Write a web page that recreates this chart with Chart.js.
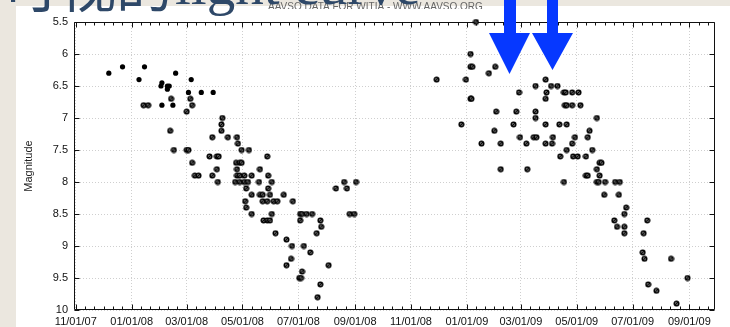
<!DOCTYPE html>
<html><head><meta charset="utf-8">
<script src="https://cdn.jsdelivr.net/npm/chart.js@4.4.0/dist/chart.umd.min.js"></script>
<style>html,body{margin:0;padding:0;background:#ebe7df;overflow:hidden}#wrap{width:730px;height:327px}</style>
</head><body><div id="wrap"><canvas id="c" width="730" height="327"></canvas></div>
<script>
// ---- data (x = days since 2007-11-01, y = magnitude) ----
const startDate = [2007, 11, 1];
const tickLabels = ['11/01/07','01/01/08','03/01/08','05/01/08','07/01/08','09/01/08','11/01/08','01/01/09','03/01/09','05/01/09','07/01/09','09/01/09'];
const magTicks = [5.5,6,6.5,7,7.5,8,8.5,9,9.5,10];
const titleCJK = '可视的';
const titleLatin = 'light curve';
const headerText = 'AAVSO DATA FOR WITIA - WWW.AAVSO.ORG';
const yTitle = 'Magnitude';

const filledDays = [36,51,75,69,109,126,94,93,100,102,100,123,137,150,94,106];
const filledMags = [6.3,6.2,6.2,6.4,6.3,6.4,6.45,6.5,6.5,6.5,6.55,6.6,6.6,6.6,6.8,6.8];

const season2008Days = [74,79,104,125,127,121,160,103,107,159,159,149,166,176,177,181,189,121,123,127,146,154,156,209,130,134,149,154,155,175,179,181,176,176,179,184,192,201,174,179,184,188,200,210,214,186,210,192,201,204,212,227,185,204,209,216,220,237,186,192,205,209,212,214,218,230,236,235,230,244,246,247,245,247,252,258,245,267,268,263,249,256,276,267,264,284,293,296,306,299,304];
const season2008Mags = [6.8,6.8,6.7,6.7,6.8,6.9,7.0,7.2,7.5,7.1,7.2,7.3,7.3,7.3,7.4,7.5,7.5,7.5,7.5,7.7,7.6,7.6,7.6,7.6,7.9,7.9,7.9,7.8,8.0,7.7,7.7,7.7,7.8,7.9,7.9,7.9,7.9,7.8,8.0,8.0,8.0,8.0,8.0,7.9,8.0,8.1,8.1,8.2,8.2,8.2,8.2,8.2,8.3,8.3,8.3,8.3,8.3,8.3,8.4,8.5,8.6,8.6,8.6,8.5,8.8,8.9,9.0,9.2,9.3,9.5,9.5,9.4,8.5,8.5,8.5,8.5,8.6,8.6,8.7,8.8,9.0,9.1,9.3,9.6,9.8,8.1,8.0,8.1,8.0,8.5,8.5];

const season2009Days = [437,431,431,433,458,451,394,426,431,432,421,443,459,457,464,464,478,481,484,485,492,493,502,502,502,500,503,513,519,526,514,513,533,535,542,549,534,536,542,551,569,513,528,536,561,559,545,521,513,520,542,536,564,529,543,548,557,572,574,569,572,557,559,569,571,578,589,594,533,577,593,601,599,588,591,599,599,624,620,619,621,650,668,625,634,656];
const season2009Mags = [5.5,6.0,6.2,6.2,6.2,6.3,6.4,6.4,6.7,6.7,7.1,7.4,6.9,7.2,7.4,7.8,7.1,6.9,6.6,7.3,7.4,7.8,6.5,6.9,7.0,7.3,7.3,6.4,6.5,6.5,6.6,6.7,6.6,6.6,6.6,6.6,6.8,6.8,6.8,6.8,7.0,7.1,7.1,7.1,7.2,7.3,7.3,7.3,7.4,7.4,7.4,7.5,7.5,7.6,7.6,7.6,7.6,7.7,7.7,7.8,7.9,7.9,7.9,8.0,8.0,8.0,8.0,8.0,8.0,8.2,8.2,8.4,8.5,8.6,8.7,8.7,8.8,8.6,8.8,9.1,9.2,9.2,9.5,9.6,9.7,9.9];

// ---- helpers ----
const t0 = Date.UTC(startDate[0], startDate[1]-1, startDate[2]);
function labelToDay(l){ const p=l.split('/').map(Number); return Math.round((Date.UTC(2000+p[2],p[0]-1,p[1])-t0)/86400000); }
const tickDays = tickLabels.map(labelToDay);
const zip = (xs, ys) => xs.map((x,i)=>({x:x, y:ys[i]}));

function makeMarker(){
  const c=document.createElement('canvas'); c.width=7; c.height=7;
  const g=c.getContext('2d');
  g.fillStyle='#000'; g.beginPath(); g.arc(3.5,3.5,3.0,0,Math.PI*2); g.fill();
  g.fillStyle='#b8b8b8'; g.beginPath(); g.arc(3.5,3.5,1.4,0,Math.PI*2); g.fill();
  g.strokeStyle='#000'; g.lineWidth=1.2; g.beginPath(); g.moveTo(5.0,2.0); g.lineTo(2.0,5.0); g.stroke();
  return c;
}
const hatched = makeMarker();
const FONT = '"Liberation Sans", Arial, Helvetica, sans-serif';

const decor = {
  id:'decor',
  beforeDraw(chart){
    const ctx=chart.ctx; ctx.save();
    ctx.fillStyle='#ebe7df'; ctx.fillRect(0,0,730,327);
    ctx.fillStyle='#ffffff'; ctx.fillRect(16,6,714,321);
    // small header (partly hidden)
    ctx.save(); ctx.beginPath(); ctx.rect(0,2,730,7); ctx.clip();
    ctx.fillStyle='#666'; ctx.font='10px '+FONT; ctx.textBaseline='alphabetic'; ctx.textAlign='left';
    ctx.fillText(headerText, 268, 9.5); ctx.restore();
    // big slide title (mostly out of frame)
    ctx.fillStyle='#2e4868'; ctx.textBaseline='alphabetic'; ctx.textAlign='left';
    ctx.font='57px "Noto Sans CJK SC"'; ctx.fillText(titleCJK, 2, 7);
    ctx.font='57px "Liberation Serif", "DejaVu Serif", serif'; ctx.fillText(titleLatin, 175, 4);
    ctx.restore();
  },
  beforeDatasetsDraw(chart){
    const ctx=chart.ctx, a=chart.chartArea, xs=chart.scales.x, ys=chart.scales.y;
    ctx.save();
    ctx.strokeStyle='#111'; ctx.lineWidth=1;
    const L=Math.round(a.left)+0.5, R=Math.round(a.right)-0.5, T=Math.round(a.top)+0.5, B=Math.round(a.bottom)-0.5;
    ctx.beginPath(); ctx.rect(L,T,R-L,B-T); ctx.stroke();
    ctx.beginPath();
    for(let i=0;i<tickDays.length;i++){
      const px=Math.round(xs.getPixelForValue(tickDays[i]))+0.5;
      ctx.moveTo(px,B); ctx.lineTo(px,B-5); ctx.moveTo(px,T); ctx.lineTo(px,T+5);
      const next = i<tickDays.length-1 ? tickDays[i+1] : tickDays[i]+61;
      const step=(next-tickDays[i])/6;
      for(let k=1;k<6;k++){
        const v=tickDays[i]+k*step; if(v>xs.max) break;
        const q=Math.round(xs.getPixelForValue(v))+0.5;
        ctx.moveTo(q,B); ctx.lineTo(q,B-3); ctx.moveTo(q,T); ctx.lineTo(q,T+3);
      }
    }
    for(const m of magTicks){
      const py=Math.round(ys.getPixelForValue(m))+0.5;
      ctx.moveTo(L,py); ctx.lineTo(L+5,py); ctx.moveTo(R,py); ctx.lineTo(R-5,py);
    }
    ctx.stroke();
    ctx.restore();
  },
  afterDraw(chart){
    const ctx=chart.ctx; ctx.save(); ctx.fillStyle='#0638ff';
    const arrow=(sl,sr,hl,hr,ht,tx,ty)=>{ctx.beginPath();ctx.moveTo(sl,0);ctx.lineTo(sr,0);ctx.lineTo(sr,ht);ctx.lineTo(hr,ht);ctx.lineTo(tx,ty);ctx.lineTo(hl,ht);ctx.lineTo(sl,ht);ctx.closePath();ctx.fill();};
    arrow(504,516,489,530,33,509.5,74);
    arrow(547,558,532,573,33,552.5,70);
    ctx.restore();
  }
};

new Chart(document.getElementById('c'), {
  type:'scatter',
  data:{datasets:[
    {label:'filled', data:zip(filledDays, filledMags), pointStyle:'circle', pointRadius:2.6, backgroundColor:'#000', borderColor:'#000', borderWidth:0, clip:false},
    {label:'2008', data:zip(season2008Days, season2008Mags), pointStyle:hatched, pointRadius:3, clip:false},
    {label:'2009', data:zip(season2009Days, season2009Mags), pointStyle:hatched, pointRadius:3, clip:false}
  ]},
  options:{
    responsive:false, animation:false, events:[],
    layout:{padding:{left:0, top:22, right:15, bottom:0}},
    plugins:{legend:{display:false}, tooltip:{enabled:false}},
    scales:{
      x:{type:'linear', min:-2, max:698,
        afterBuildTicks:s=>{ s.ticks = tickDays.map(v=>({value:v})); },
        afterFit:s=>{ s.height=17; },
        ticks:{autoSkip:false, maxRotation:0, padding:5, color:'#111', font:{family:FONT, size:11},
          callback:v=>{ const i=tickDays.indexOf(v); return i>=0?tickLabels[i]:''; }},
        grid:{color:'#cfcfcf', lineWidth:1, drawTicks:false},
        border:{display:false, dash:[1,2]}
      },
      y:{type:'linear', reverse:true, min:5.5, max:10,
        afterBuildTicks:s=>{ s.ticks = magTicks.map(v=>({value:v})); },
        afterFit:s=>{ s.width=74; },
        ticks:{padding:6, color:'#111', font:{family:FONT, size:11}, callback:v=>String(v)},
        grid:{color:'#cfcfcf', lineWidth:1, drawTicks:false},
        border:{display:false, dash:[1,2]},
        title:{display:true, text:yTitle, color:'#222', font:{family:FONT, size:11}, padding:{top:22, bottom:0}}
      }
    }
  },
  plugins:[decor]
});
</script></body></html>
